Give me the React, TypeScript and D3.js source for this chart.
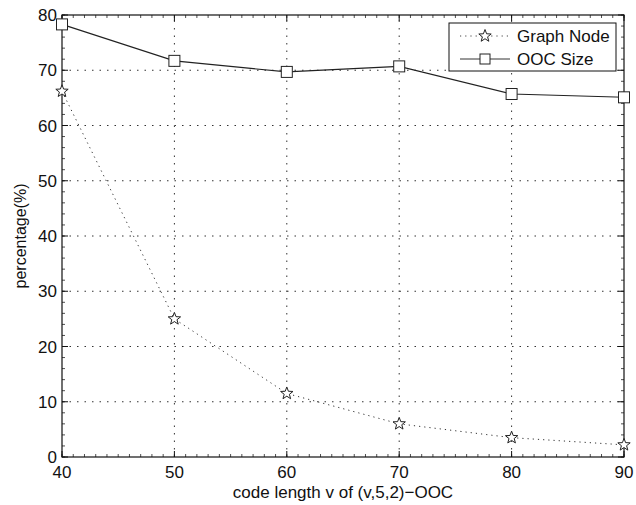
import React from 'react';
import * as d3 from 'd3';

// code length v of (v,5,2)-OOC
const codeLengths = [40, 50, 60, 70, 80, 90];
const graphNode = [66.2, 25.0, 11.5, 6.0, 3.5, 2.2];
const oocSize = [78.3, 71.7, 69.7, 70.7, 65.7, 65.1];
const xTicks = [40, 50, 60, 70, 80, 90];
const yTicks = [0, 10, 20, 30, 40, 50, 60, 70, 80];

const W = 636;
const H = 505;
const m = { left: 62, right: 12, top: 15, bottom: 48 };
const FONT = '"Liberation Sans", Arial, Helvetica, sans-serif';

function starPath(cx: number, cy: number, r: number) {
  const pts: [number, number][] = [];
  for (let i = 0; i < 10; i++) {
    const a = -Math.PI / 2 + (i * Math.PI) / 5;
    const rr = i % 2 === 0 ? r : r * 0.42;
    pts.push([cx + rr * Math.cos(a), cy + rr * Math.sin(a)]);
  }
  return 'M' + pts.map(p => p.join(',')).join('L') + 'Z';
}

export default function App() {
  const x = d3.scaleLinear().domain([40, 90]).range([m.left, W - m.right]);
  const y = d3.scaleLinear().domain([0, 80]).range([H - m.bottom, m.top]);
  const [x0, x1] = x.range();
  const [y0, y1] = y.range();

  const line = d3.line<[number, number]>().x(d => x(d[0])).y(d => y(d[1]));
  const nodePts = codeLengths.map((v, i) => [v, graphNode[i]] as [number, number]);
  const oocPts = codeLengths.map((v, i) => [v, oocSize[i]] as [number, number]);

  const xMinor = d3.range(40, 91, 1);
  const yMinor = d3.range(0, 81, 2);

  const lx = 449, ly = 23, lw = 167, lh = 48;

  return (
    <svg width={W} height={H} style={{ position: 'absolute', left: 0, top: 0, background: '#fff' }}>
      {/* grid */}
      <g stroke="#333" strokeWidth={1} strokeDasharray="1.5,6">
        {xTicks.slice(1, -1).map(t => (
          <line key={'gx' + t} x1={x(t)} x2={x(t)} y1={y0} y2={y1} />
        ))}
        {yTicks.slice(1, -1).map(t => (
          <line key={'gy' + t} x1={x0} x2={x1} y1={y(t)} y2={y(t)} />
        ))}
      </g>
      {/* minor ticks */}
      <g stroke="#222" strokeWidth={0.8}>
        {xMinor.map(t => (
          <g key={'mx' + t}>
            <line x1={x(t)} x2={x(t)} y1={y0} y2={y0 - 3} />
            <line x1={x(t)} x2={x(t)} y1={y1} y2={y1 + 3} />
          </g>
        ))}
        {yMinor.map(t => (
          <g key={'my' + t}>
            <line x1={x0} x2={x0 + 3} y1={y(t)} y2={y(t)} />
            <line x1={x1} x2={x1 - 3} y1={y(t)} y2={y(t)} />
          </g>
        ))}
      </g>
      {/* major ticks */}
      <g stroke="#111" strokeWidth={1}>
        {xTicks.map(t => (
          <g key={'tx' + t}>
            <line x1={x(t)} x2={x(t)} y1={y0} y2={y0 - 6} />
            <line x1={x(t)} x2={x(t)} y1={y1} y2={y1 + 6} />
          </g>
        ))}
        {yTicks.map(t => (
          <g key={'ty' + t}>
            <line x1={x0} x2={x0 + 6} y1={y(t)} y2={y(t)} />
            <line x1={x1} x2={x1 - 6} y1={y(t)} y2={y(t)} />
          </g>
        ))}
      </g>
      <rect x={x0} y={y1} width={x1 - x0} height={y0 - y1} fill="none" stroke="#111" strokeWidth={1.2} />
      {/* series */}
      <path d={line(nodePts) || ''} fill="none" stroke="#333" strokeWidth={1} strokeDasharray="1.2,4" />
      <path d={line(oocPts) || ''} fill="none" stroke="#222" strokeWidth={1.1} />
      {nodePts.map((p, i) => (
        <path key={'s' + i} d={starPath(x(p[0]), y(p[1]), 6.5)} fill="#fff" stroke="#222" strokeWidth={1} />
      ))}
      {oocPts.map((p, i) => (
        <rect key={'q' + i} x={x(p[0]) - 5.5} y={y(p[1]) - 5.5} width={11} height={11} fill="#fff" stroke="#222" strokeWidth={1} />
      ))}
      {/* tick labels */}
      <g fontFamily={FONT} fontSize={17} fill="#111">
        {xTicks.map(t => (
          <text key={'lx' + t} x={x(t)} y={y0 + 21} textAnchor="middle">{t}</text>
        ))}
        {yTicks.map(t => (
          <text key={'ly' + t} x={x0 - 5} y={y(t) + 6} textAnchor="end">{t}</text>
        ))}
      </g>
      <text x={(x0 + x1) / 2} y={H - 7} textAnchor="middle" fontFamily={FONT} fontSize={17} fill="#111">
        code length v of (v,5,2)−OOC
      </text>
      <text transform={`translate(26,${(y0 + y1) / 2}) rotate(-90)`} textAnchor="middle" fontFamily={FONT} fontSize={16} fill="#111">
        percentage(%)
      </text>
      {/* legend */}
      <g>
        <rect x={lx} y={ly} width={lw} height={lh} fill="#fff" stroke="#111" strokeWidth={1} />
        <line x1={lx + 11} x2={lx + 61} y1={ly + 13} y2={ly + 13} stroke="#444" strokeDasharray="1.2,4" />
        <path d={starPath(lx + 36, ly + 13, 6.5)} fill="#fff" stroke="#222" />
        <line x1={lx + 11} x2={lx + 61} y1={ly + 36} y2={ly + 36} stroke="#333" />
        <rect x={lx + 31} y={ly + 31} width={10} height={10} fill="#fff" stroke="#222" />
        <g fontFamily={FONT} fontSize={17} fill="#111">
          <text x={lx + 68} y={ly + 19}>Graph Node</text>
          <text x={lx + 68} y={ly + 42}>OOC Size</text>
        </g>
      </g>
    </svg>
  );
}
